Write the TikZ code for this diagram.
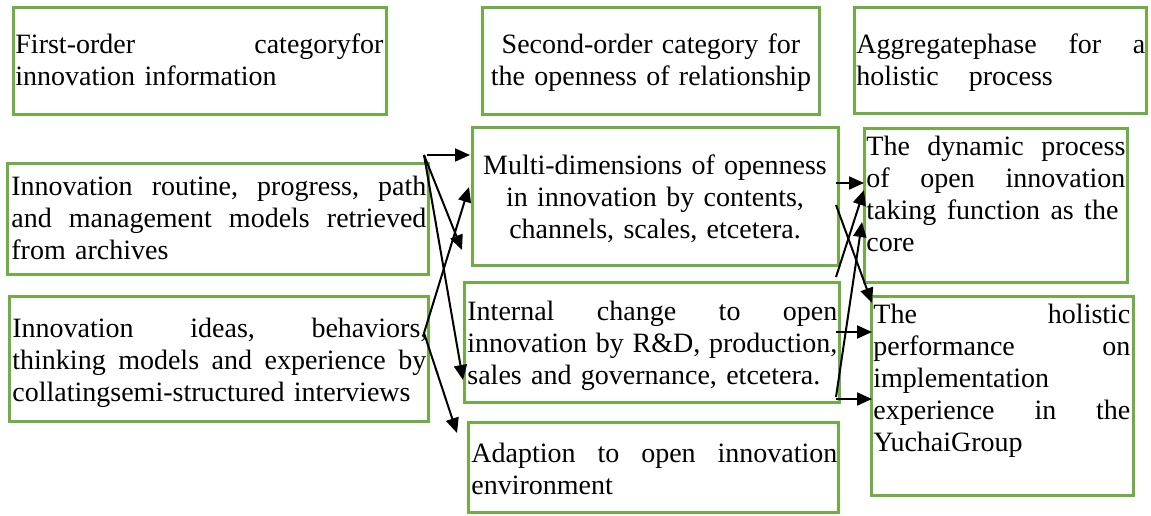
\documentclass[tikz,border=0pt]{standalone}
\usepackage{fontspec}
\setmainfont{Liberation Serif}
\usetikzlibrary{arrows.meta}
\definecolor{boxgreen}{HTML}{70AD47}
% a line of the given width, words spread by \hfill
\newcommand{\spreadline}[2]{\leavevmode\hbox to #1{#2}}
\begin{document}
\begin{tikzpicture}[x=0.5pt,y=-0.5pt,
  gbox/.style={draw=boxgreen, line width=1.5pt, inner sep=0pt, fill=none},
  txt/.style={inner sep=0pt, anchor=base west, align=left,
    font=\fontsize{14pt}{16pt}\selectfont},
  ctxt/.style={inner sep=0pt, anchor=base, align=center,
    font=\fontsize{14pt}{16pt}\selectfont},
  conn/.style={line width=1pt, -{Triangle[length=7.5pt,width=6.5pt]}}]
\useasboundingbox (0,0) rectangle (1151,515);

% boxes
\node[gbox, minimum width=186.5pt, minimum height=53.5pt] (hdrA) at (199.5,60.5) {};
\node[gbox, minimum width=168.5pt, minimum height=53.5pt] (hdrB) at (650.5,60.5) {};
\node[gbox, minimum width=146pt,   minimum height=53pt]   (hdrC) at (1000,60) {};
\node[gbox, minimum width=210.5pt, minimum height=55.5pt] (src1) at (217.5,218.5) {};
\node[gbox, minimum width=209.5pt, minimum height=62.5pt] (src2) at (218.5,358.5) {};
\node[gbox, minimum width=183pt,   minimum height=69pt]   (multi) at (655,196) {};
\node[gbox, minimum width=187.5pt, minimum height=60pt]   (internal) at (651.5,342) {};
\node[gbox, minimum width=185pt,   minimum height=45pt]   (adapt) at (653,467) {};
\node[gbox, minimum width=131.5pt, minimum height=77pt]   (dyn) at (995.5,205) {};
\node[gbox, minimum width=131pt,   minimum height=99.5pt] (hol) at (1002,395.5) {};

% texts
\node[txt, text width=184pt] (tA) at (15,53)
  {\spreadline{184pt}{First-order\hfill categoryfor}\\innovation information};
\node[ctxt, text width=165pt] (tB) at (651,53)
  {Second-order category for\\the openness of relationship};
\node[txt, text width=145pt] (tC) at (856,53)
  {\spreadline{144.5pt}{Aggregatephase\hfill for\hfill a}\\holistic\hspace{15pt}process};
\node[txt, text width=208pt] (t1) at (11,195)
  {\spreadline{207.5pt}{Innovation\hfill routine,\hfill progress,\hfill path}\\
   \spreadline{207.5pt}{and\hfill management\hfill models\hfill retrieved}\\from archives};
\node[txt, text width=208pt] (t2) at (12,337)
  {\spreadline{207.5pt}{Innovation\hfill ideas,\hfill behaviors,}\\
   \spreadline{207pt}{thinking\hfill models\hfill and\hfill experience\hfill by}\\
   collatingsemi-structured interviews};
\node[ctxt, text width=180pt] (tM) at (655,174)
  {Multi-dimensions of openness\\in innovation by contents,\\channels, scales, etcetera.};
\node[txt, text width=186pt] (tI) at (467,320)
  {\spreadline{185pt}{Internal\hfill change\hfill to\hfill open}\\
   \spreadline{185pt}{innovation\hfill by\hfill R\&D,\hfill production,}\\
   sales and governance, etcetera.};
\node[txt, text width=184pt] (tAd) at (471,462)
  {\spreadline{183pt}{Adaption\hfill to\hfill open\hfill innovation}\\environment};
\node[txt, text width=130pt] (tD) at (866,155)
  {\spreadline{129.5pt}{The\hfill dynamic\hfill process}\\
   \spreadline{129.5pt}{of\hfill open\hfill innovation}\\
   \spreadline{126pt}{taking\hfill function\hfill as\hfill the}\\core};
\node[txt, text width=129pt] (tE) at (873,323)
  {\spreadline{128.5pt}{The\hfill holistic}\\
   \spreadline{128.5pt}{performance\hfill on}\\
   implementation\\
   \spreadline{128.5pt}{experience\hfill in\hfill the}\\
   YuchaiGroup};

% connector end points, left group
\coordinate (l0) at (427,155);
\coordinate (l1) at (424,155);
\coordinate (l2) at (424,333);
\coordinate (m1) at (470,155);
\coordinate (m2) at (462,250);
\coordinate (m3) at (463,380);
\coordinate (m4) at (469,187);
\coordinate (m5) at (457,433);
% connector end points, right group
\coordinate (r1) at (836,183);
\coordinate (r2) at (836,205);
\coordinate (r3) at (836,277);
\coordinate (r4) at (836,332);
\coordinate (r5) at (836,397);
\coordinate (r6) at (836,399);
\coordinate (e1) at (864,183);
\coordinate (e2) at (872,303);
\coordinate (e3) at (864,190);
\coordinate (e4) at (872,332);
\coordinate (e5) at (862,222);
\coordinate (e6) at (872,399);

\draw[conn] (l0) -- (m1);
\draw[conn] (l1) -- (m2);
\draw[conn] (l1) -- (m3);
\draw[conn] (l2) -- (m4);
\draw[conn] (l2) -- (m5);

\draw[conn] (r1) -- (e1);
\draw[conn] (r2) -- (e2);
\draw[conn] (r3) -- (e3);
\draw[conn] (r4) -- (e4);
\draw[conn] (r5) -- (e5);
\draw[conn] (r6) -- (e6);
\end{tikzpicture}
\end{document}
